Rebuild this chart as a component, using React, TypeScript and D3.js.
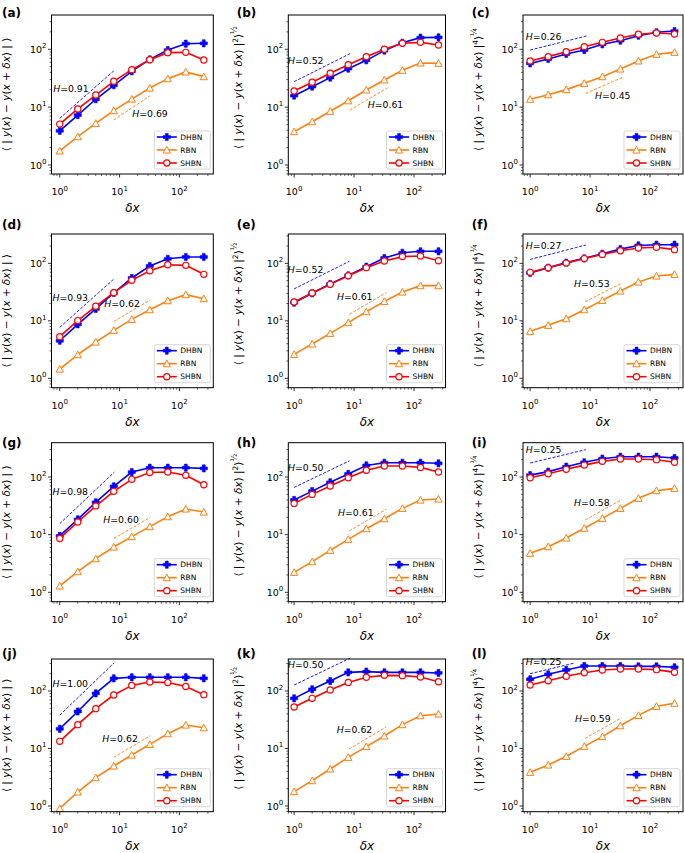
import React from "react";
import * as d3 from "d3";

const DX = [1, 2, 4, 8, 16, 32, 64, 128, 256];
const SERIES_NAMES = ["DHBN", "RBN", "SHBN"];
const PANEL_LABELS = ["(a)", "(b)", "(c)", "(d)", "(e)", "(f)", "(g)", "(h)", "(i)", "(j)", "(k)", "(l)"];
const MAJOR_TICKS = [1, 10, 100];
const TICK_EXPONENTS = ["0", "1", "2"];

const DHBN = [
  [3.9, 7.3, 13.7, 23.9, 41.7, 67, 97, 125, 127],
  [15.8, 22.6, 32.4, 46.3, 64.5, 95, 130, 159, 161],
  [57, 68, 83, 97, 122, 141, 172, 197, 207],
  [4.5, 8.7, 16.1, 30.5, 55.6, 90, 120, 129, 129],
  [20.7, 30.1, 43.7, 61.8, 87.5, 124, 153, 162, 162],
  [68, 84, 103, 122, 147, 177, 205, 211, 211],
  [9.5, 18.4, 36.4, 69, 122, 145, 145, 145, 141],
  [40, 57, 81, 113, 159, 177, 177, 177, 173],
  [108, 124, 151, 180, 208, 225, 225, 225, 214],
  [22, 44, 91, 166, 173, 173, 173, 173, 166],
  [74.5, 107, 149, 211, 217, 211, 211, 211, 206],
  [160, 195, 232, 272, 272, 272, 268, 268, 258],
];
const RBN = [
  [1.75, 3.09, 5.25, 8.7, 13.8, 21.4, 31.1, 40.6, 33.7],
  [3.77, 5.6, 8.5, 12.9, 19.8, 29.5, 43.4, 58, 57.3],
  [13.7, 16.4, 20.1, 25.8, 33.7, 45.7, 63, 82, 88.7],
  [1.45, 2.58, 4.28, 6.84, 10.6, 15.6, 22.4, 28.5, 24.3],
  [2.61, 3.95, 6.06, 9.3, 14.4, 21.8, 31.7, 40.9, 40.9],
  [6.57, 8.35, 10.9, 15.6, 22.7, 33, 47.4, 60.2, 64.4],
  [1.29, 2.28, 3.83, 6.11, 9.23, 13.8, 20.5, 27.9, 24.7],
  [2.22, 3.4, 5.35, 8.3, 12.7, 18.9, 28.6, 39.9, 41.5],
  [4.75, 6.19, 8.75, 12.9, 19.2, 28.6, 42.7, 58, 63.6],
  [0.91, 1.75, 3.11, 4.96, 7.7, 11.8, 18.1, 25.6, 23],
  [1.78, 2.76, 4.4, 7.02, 10.8, 16.5, 26, 37.2, 39.8],
  [3.85, 5.17, 7.31, 10.9, 16.1, 24.9, 37.7, 54.1, 61.1],
];
const SHBN = [
  [5.1, 9.3, 16.2, 28, 44.5, 66, 87.5, 88.7, 65.4],
  [19, 26.9, 38.5, 54.3, 74.7, 100, 127, 132, 119],
  [62.9, 74.7, 91.1, 111, 132, 157, 182, 192, 184],
  [5.3, 10.1, 17.9, 30.9, 50.6, 74.5, 94.8, 92.3, 64.4],
  [21.3, 30.5, 43.1, 61, 84.1, 110, 131, 134, 111],
  [69.7, 84, 101, 121, 143, 166, 185, 190, 173],
  [8.6, 16.6, 31.4, 56.4, 91.1, 120, 122, 107, 73.6],
  [34.9, 50, 69.8, 97.3, 131, 155, 155, 147, 122],
  [97.3, 114, 136, 161, 187, 205, 205, 200, 180],
  [13.3, 26, 49.3, 85.2, 125, 143, 140, 120, 86.3],
  [52.7, 74.5, 104, 141, 173, 187, 185, 175, 145],
  [127, 151, 180, 208, 232, 241, 241, 235, 211],
];

// Hurst exponent guide lines
const H_DHBN = [0.91, 0.52, 0.26, 0.93, 0.52, 0.27, 0.98, 0.5, 0.25, 1.0, 0.5, 0.25];
const H_RBN = [0.69, 0.61, 0.45, 0.62, 0.61, 0.53, 0.6, 0.61, 0.58, 0.62, 0.62, 0.59];
const FIT_DHBN_SPAN = [[1, 8], [1, 8.8], [1, 8.7], [1, 8], [1, 8.4], [1, 8.5], [1, 8.2], [1, 8.4], [1, 8.5], [1, 8], [1, 8.6], [1, 5.6]];
const FIT_DHBN_START = [6.4, 27.6, 97, 7.7, 36, 117, 15.5, 66, 175, 38, 127, 200];
const FIT_RBN_SPAN = [[8, 32], [8.45, 36], [8.45, 35], [8, 32.5], [8.3, 34.6], [8.26, 33.7], [8, 32.5], [8.3, 34.6], [8.26, 33.7], [8, 32.5], [8.3, 34.6], [8.26, 33.7]];
const FIT_RBN_START = [6.0, 8.9, 17.3, 9.7, 13, 21.5, 8.6, 11.6, 18, 7.0, 9.8, 15];
const LABEL_DHBN_AT = [[0.776, 21.2], [0.79, 62.3], [0.848, 165], [0.756, 25.6], [0.785, 76.4], [0.848, 200], [0.756, 55.6], [0.79, 145], [0.848, 294], [0.756, 136], [0.79, 283], [0.848, 323]];
const LABEL_RBN_AT = [[16.3, 7.83], [16.9, 10.9], [12.1, 15.6], [5.56, 19.6], [5.2, 26.2], [5.41, 43.6], [5.35, 17.9], [5.41, 24], [5.41, 36.4], [5.15, 15], [5.15, 21], [5.62, 33.5]];

// axis limits per column / row
const X_DOMAINS = [[0.728, 369], [0.8, 335], [0.76, 355]];
const Y_DOMAINS = [[0.699, 392], [0.687, 324], [0.687, 394], [0.796, 360]];

// layout
const COLS = [
  { left: 51.5, right: 213.3, labelX: 2, ylabX: 9.5, ylabShift: 0 },
  { left: 288.3, right: 445.5, labelX: 236.7, ylabX: 241.5, ylabShift: -7 },
  { left: 523, right: 683, labelX: 471.7, ylabX: 482, ylabShift: -5 },
];
const ROWS = [
  { top: 15, bottom: 174, labelY: 17 },
  { top: 234, bottom: 387.7, labelY: 228.5 },
  { top: 442.7, bottom: 601.7, labelY: 446.5 },
  { top: 659, bottom: 811.7, labelY: 657.5 },
];

const COLORS = { DHBN: "#0000ff", RBN: "#ff7f0e", SHBN: "#ff0000" };
const FONT = "DejaVu Sans, Verdana, sans-serif";

function Marker({ type, x, y }: { type: string; x: number; y: number }) {
  if (type === "DHBN") {
    const h = 3.6, t = 1.4;
    const pts = [[-t, -h], [t, -h], [t, -t], [h, -t], [h, t], [t, t], [t, h], [-t, h], [-t, t], [-h, t], [-h, -t], [-t, -t]]
      .map(([a, b]) => `${x + a},${y + b}`).join(" ");
    return <polygon points={pts} fill={COLORS.DHBN} stroke={COLORS.DHBN} strokeWidth={0.6} />;
  }
  if (type === "RBN") {
    const s = 3.6;
    const pts = [[0, -s], [-s, s * 0.85], [s, s * 0.85]].map(([a, b]) => `${x + a},${y + b}`).join(" ");
    return <polygon points={pts} fill="white" stroke={COLORS.RBN} strokeWidth={1} />;
  }
  return <circle cx={x} cy={y} r={3.1} fill="white" stroke={COLORS.SHBN} strokeWidth={1.2} />;
}

function YLabel({ col, x, y }: { col: number; x: number; y: number }) {
  const it = { fontStyle: "italic" as const };
  return (
    <text transform={`translate(${x},${y}) rotate(-90)`} textAnchor="middle" fontSize={10.5} fontFamily={FONT}>
      <tspan>⟨ | </tspan>
      <tspan {...it}>y</tspan>
      <tspan>(</tspan>
      <tspan {...it}>x</tspan>
      <tspan>) − </tspan>
      <tspan {...it}>y</tspan>
      <tspan>(</tspan>
      <tspan {...it}>x</tspan>
      <tspan> + </tspan>
      <tspan {...it}>δx</tspan>
      <tspan>) |</tspan>
      {col === 0 && <tspan> ⟩</tspan>}
      {col > 0 && (
        <>
          <tspan dy={-4} fontSize={7.5}>{col === 1 ? "2" : "4"}</tspan>
          <tspan dy={4}>⟩</tspan>
          <tspan dy={-5} fontSize={8}>{col === 1 ? "½" : "¼"}</tspan>
        </>
      )}
    </text>
  );
}

function Panel({ idx }: { idx: number }) {
  const col = idx % 3;
  const row = Math.floor(idx / 3);
  const C = COLS[col];
  const R = ROWS[row];
  const xs = d3.scaleLog().domain(X_DOMAINS[col]).range([C.left, C.right]);
  const ys = d3.scaleLog().domain(Y_DOMAINS[row]).range([R.bottom, R.top]);

  const minor = (dom: number[]) => {
    const out: number[] = [];
    for (let k = -1; k <= 2; k++)
      for (let m = 2; m <= 9; m++) {
        const v = m * Math.pow(10, k);
        if (v >= dom[0] && v <= dom[1]) out.push(v);
      }
    return out;
  };
  const xMinor = minor(X_DOMAINS[col]);
  const yMinor = minor(Y_DOMAINS[row]);

  const line = d3.line<number>().x((_, i) => xs(DX[i])).y((d) => ys(d));
  const seriesData: Record<string, number[]> = { DHBN: DHBN[idx], RBN: RBN[idx], SHBN: SHBN[idx] };

  const fitPath = (span: number[], start: number, H: number) => {
    const pts = span.map((x) => [xs(x), ys(start * Math.pow(x / span[0], H))]);
    return `M${pts[0][0]},${pts[0][1]}L${pts[1][0]},${pts[1][1]}`;
  };

  const legW = 56, legH = 38;
  const legX = C.right - 3 - legW;
  const legY = R.bottom - 5 - legH;

  return (
    <g>
      <path d={fitPath(FIT_DHBN_SPAN[idx], FIT_DHBN_START[idx], H_DHBN[idx])} stroke={COLORS.DHBN} strokeWidth={0.9} strokeDasharray="3,1.6" fill="none" />
      <path d={fitPath(FIT_RBN_SPAN[idx], FIT_RBN_START[idx], H_RBN[idx])} stroke={COLORS.RBN} strokeWidth={0.9} strokeDasharray="3,1.6" fill="none" />
      <text x={xs(LABEL_DHBN_AT[idx][0])} y={ys(LABEL_DHBN_AT[idx][1])} dy="0.35em" fontSize={9.3} fontFamily={FONT}>
        <tspan fontStyle="italic">H</tspan>={H_DHBN[idx].toFixed(2)}
      </text>
      <text x={xs(LABEL_RBN_AT[idx][0])} y={ys(LABEL_RBN_AT[idx][1])} dy="0.35em" fontSize={9.3} fontFamily={FONT}>
        <tspan fontStyle="italic">H</tspan>={H_RBN[idx].toFixed(2)}
      </text>

      {SERIES_NAMES.map((s) => (
        <g key={s}>
          <path d={line(seriesData[s]) || ""} stroke={(COLORS as any)[s]} strokeWidth={1.6} fill="none" />
          {seriesData[s].map((v, i) => (
            <Marker key={i} type={s} x={xs(DX[i])} y={ys(v)} />
          ))}
        </g>
      ))}

      <rect x={C.left} y={R.top} width={C.right - C.left} height={R.bottom - R.top} fill="none" stroke="black" strokeWidth={1} />

      {MAJOR_TICKS.map((t, i) => (
        <g key={"x" + t}>
          <line x1={xs(t)} x2={xs(t)} y1={R.bottom} y2={R.bottom + 3.5} stroke="black" strokeWidth={0.8} />
          <text x={xs(t)} y={R.bottom + 21} textAnchor="middle" fontSize={9.5} fontFamily={FONT}>
            10<tspan dy={-4.5} fontSize={7}>{TICK_EXPONENTS[i]}</tspan>
          </text>
        </g>
      ))}
      {xMinor.map((t) => (
        <line key={"xm" + t} x1={xs(t)} x2={xs(t)} y1={R.bottom} y2={R.bottom + 2} stroke="black" strokeWidth={0.6} />
      ))}
      {MAJOR_TICKS.map((t, i) => (
        <g key={"y" + t}>
          <line x1={C.left} x2={C.left - 3.5} y1={ys(t)} y2={ys(t)} stroke="black" strokeWidth={0.8} />
          <text x={C.left - 5} y={ys(t) + 3.5} textAnchor="end" fontSize={9.5} fontFamily={FONT}>
            10<tspan dy={-4.5} fontSize={7}>{TICK_EXPONENTS[i]}</tspan>
          </text>
        </g>
      ))}
      {yMinor.map((t) => (
        <line key={"ym" + t} x1={C.left} x2={C.left - 2} y1={ys(t)} y2={ys(t)} stroke="black" strokeWidth={0.6} />
      ))}

      <text x={(C.left + C.right) / 2} y={R.bottom + 38} textAnchor="middle" fontSize={12} fontStyle="italic" fontFamily={FONT}>
        δx
      </text>
      <YLabel col={col} x={C.ylabX} y={(R.top + R.bottom) / 2 + C.ylabShift} />
      <text x={C.labelX} y={R.labelY} fontSize={12} fontWeight="bold" fontFamily={FONT}>
        {PANEL_LABELS[idx]}
      </text>

      <rect x={legX} y={legY} width={legW} height={legH} rx={2} fill="white" fillOpacity={0.8} stroke="#cccccc" strokeWidth={0.8} />
      {SERIES_NAMES.map((s, i) => {
        const cy = legY + 6 + i * 13;
        return (
          <g key={"leg" + s}>
            <line x1={legX + 2.5} x2={legX + 22.5} y1={cy} y2={cy} stroke={(COLORS as any)[s]} strokeWidth={1.6} />
            <Marker type={s} x={legX + 12.5} y={cy} />
            <text x={legX + 26} y={cy} dy="0.35em" fontSize={7.5} fontFamily={FONT}>
              {s}
            </text>
          </g>
        );
      })}
    </g>
  );
}

export default function App() {
  return (
    <svg width={685} height={853} style={{ position: "absolute", left: 0, top: 0, background: "white" }}>
      <rect width={685} height={853} fill="white" />
      {PANEL_LABELS.map((_, i) => (
        <Panel key={i} idx={i} />
      ))}
    </svg>
  );
}
